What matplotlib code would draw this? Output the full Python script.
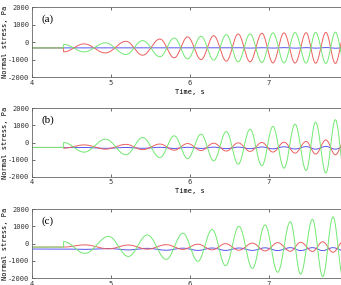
import numpy as np
import matplotlib.pyplot as plt

plt.rcParams['font.family'] = 'DejaVu Sans Mono'
plt.rcParams['font.size'] = 5
plt.rcParams['axes.unicode_minus'] = False

# extremum times (s) of the oscillations, first entry = start of excitation
t_ab = [4.40, 4.66, 4.93, 5.19, 5.40, 5.62, 5.80, 5.97, 6.14, 6.30, 6.46,
        6.61, 6.76, 6.91, 7.05, 7.19, 7.33, 7.47, 7.59, 7.72, 7.84, 7.96]
t_c = [4.40, 4.67, 4.97, 5.22, 5.46, 5.70, 5.91, 6.10, 6.28, 6.45, 6.62,
       6.79, 6.95, 7.11, 7.27, 7.40, 7.55, 7.68, 7.81, 7.94]

# panel (a) - normal stress at extrema, Pa
green_a = [-130, -560, -40, -710, 90, -840, 240, -960, 340, -1030, 430,
           -1130, 470, -1170, 530, -1190, 550, -1200, 560, -1220, 570, -1230]
red_a = [-560, -100, -620, 50, -750, 180, -900, 300, -1000, 370, -1090,
         470, -1130, 510, -1190, 530, -1200, 540, -1210, 560, -1220, 570]
blue_a = [-330, -330, -330, -330, -330, -330, -330, -330, -330, -330, -330,
          -320, -340, -320, -340, -315, -345, -315, -345, -310, -350, -310]
flat_a = [-330, -330, -330]   # green, red, blue before 4.4 s

# panel (b)
green_b = [0, -565, 195, -720, 290, -880, 390, -940, 490, -1070, 640,
           -1270, 780, -1360, 940, -1500, 1070, -1640, 1190, -1780, 1330, -1900]
red_b = [-330, -140, -390, -110, -420, -90, -450, -60, -470, -40, -500,
         -20, -520, 0, -560, 20, -620, 60, -680, 150, -720, 150]
blue_b = [-300, -290, -340, -290, -340, -280, -350, -280, -350, -270, -360,
          -270, -360, -260, -370, -250, -380, -240, -390, -230, -390, -230]
flat_b = [-290, -290, -290]

# panel (c)
green_c = [120, -560, 420, -740, 500, -910, 600, -1020, 820, -1270, 1000,
           -1430, 1080, -1650, 1270, -1760, 1400, -1900, 1540, -2000]
red_c = [-200, -70, -300, -80, -320, -60, -330, -30, -360, 0, -380,
         30, -420, 60, -440, 80, -450, 110, -500, 120]
blue_c = [-310, -330, -280, -360, -270, -380, -260, -390, -250, -390, -250,
          -390, -240, -400, -230, -400, -230, -400, -230, -400]
flat_c = [-200, -200, -310]

panels = [
    ("(a)", t_ab, green_a, red_a, blue_a, flat_a),
    ("(b)", t_ab, green_b, red_b, blue_b, flat_b),
    ("(c)", t_c, green_c, red_c, blue_c, flat_c),
]

x_ticks = [4, 5, 6, 7, 8]
x_ticklabels = ["4", "5", "6", "7", ""]
y_ticks = [-2000, -1000, 0, 1000, 2000]

GREEN = "#72e872"
RED = "#ec5f5f"
BLUE = "#5656ee"


def trace(t_ext, v_ext, v_flat, n=30):
    # flat part, jump at excitation start, then smooth swing between extrema
    xs = [4.0, t_ext[0]]
    ys = [v_flat, v_flat]
    for i in range(len(t_ext) - 1):
        u = np.linspace(0, 1, n)
        xs.extend(t_ext[i] + (t_ext[i + 1] - t_ext[i]) * u)
        ys.extend(v_ext[i] + (v_ext[i + 1] - v_ext[i]) * (1 - np.cos(np.pi * u)) / 2)
    return xs, ys


fig = plt.figure(figsize=(3.41, 2.85), dpi=100)
W, H = 341.0, 285.0
boxes = [(7.3, 77.0), (108.3, 176.7), (209.0, 278.3)]

for k, ((label, t, g, r, b, flat), (top, bot)) in enumerate(zip(panels, boxes)):
    ax = fig.add_axes([32 / W, 1 - bot / H, 316 / W, (bot - top) / H])
    x, y = trace(t, b, flat[2])
    ax.plot(x, y, color=BLUE, lw=0.7)
    x, y = trace(t, r, flat[1])
    ax.plot(x, y, color=RED, lw=0.7)
    x, y = trace(t, g, flat[0])
    ax.plot(x, y, color=GREEN, lw=0.7)

    ax.set_xlim(4, 8)
    ax.set_ylim(-2000, 2000)
    ax.set_xticks(x_ticks)
    ax.set_xticklabels(x_ticklabels)
    ax.set_yticks(y_ticks)
    ax.tick_params(direction='in', top=True, right=True, length=2.5,
                   width=0.5, labelsize=5, pad=2, colors='#333333')
    for s in ax.spines.values():
        s.set_linewidth(0.6)
        s.set_color('#666666')
    if k < 2:
        ax.set_xlabel("Time, s", fontsize=5, labelpad=2)
    ax.set_ylabel("Normal stress, Pa", fontsize=5)
    ax.yaxis.set_label_coords(-0.075, 0.5)
    ax.text(0.03, 0.9, label, transform=ax.transAxes, va='top', ha='left',
            family='Liberation Serif', fontsize=8)

fig.savefig("out.png", dpi=100)
